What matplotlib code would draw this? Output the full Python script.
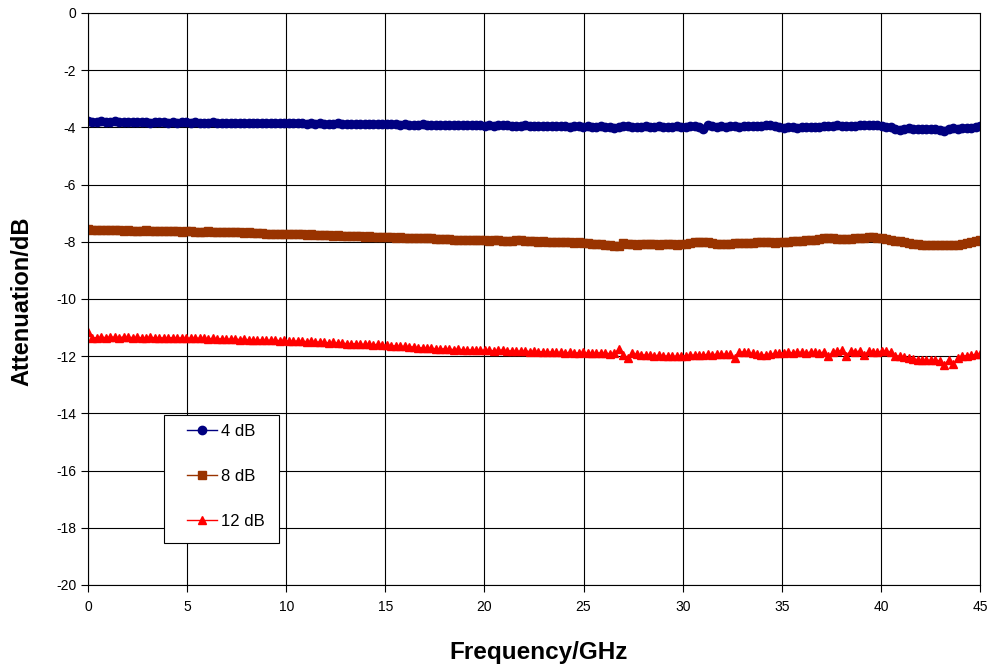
import numpy as np
import matplotlib
matplotlib.use('Agg')
import matplotlib.pyplot as plt
from matplotlib.patches import Rectangle

# frequency points, 0 to 45 GHz
freq = np.linspace(0, 45, 201)

att_4db = [
    -3.78, -3.80, -3.80, -3.79, -3.81, -3.80, -3.79, -3.80, -3.81, -3.82,
    -3.81, -3.82, -3.81, -3.82, -3.83, -3.82, -3.81, -3.82, -3.83, -3.82,
    -3.83, -3.82, -3.81, -3.83, -3.82, -3.83, -3.84, -3.83, -3.82, -3.83,
    -3.84, -3.83, -3.84, -3.85, -3.84, -3.83, -3.84, -3.85, -3.84, -3.85,
    -3.84, -3.85, -3.86, -3.85, -3.84, -3.85, -3.86, -3.85, -3.86, -3.87,
    -3.86, -3.87, -3.86, -3.87, -3.88, -3.87, -3.86, -3.87, -3.88, -3.87,
    -3.88, -3.87, -3.88, -3.89, -3.88, -3.87, -3.88, -3.89, -3.88, -3.89,
    -3.90, -3.89, -3.90, -3.91, -3.90, -3.89, -3.91, -3.90, -3.91, -3.92,
    -3.91, -3.92, -3.91, -3.93, -3.92, -3.91, -3.93, -3.92, -3.93, -3.94,
    -3.93, -3.94, -3.92, -3.90, -3.93, -3.94, -3.95, -3.94, -3.93, -3.95,
    -3.94, -3.95, -3.96, -3.95, -3.94, -3.96, -3.95, -3.96, -3.97, -3.96,
    -3.95, -3.97, -3.96, -3.98, -3.97, -3.96, -3.98, -3.99, -4.02, -3.99,
    -3.96, -3.94, -3.97, -3.98, -3.97, -3.96, -3.98, -3.97, -3.96, -3.97,
    -3.98, -3.97, -3.96, -3.98, -3.97, -3.96, -3.94, -3.97, -4.04, -3.93,
    -3.95, -3.97, -3.96, -3.97, -3.96, -3.95, -3.97, -3.96, -3.95, -3.96,
    -3.95, -3.94, -3.93, -3.91, -3.95, -4.00, -4.02, -4.00, -3.99, -4.01,
    -4.00, -3.99, -4.00, -3.98, -3.97, -3.96, -3.95, -3.94, -3.93, -3.95,
    -3.96, -3.95, -3.94, -3.93, -3.92, -3.93, -3.91, -3.92, -3.95, -3.97,
    -4.00, -4.04, -4.10, -4.05, -4.03, -4.04, -4.06, -4.05, -4.04, -4.06,
    -4.05, -4.08, -4.14, -4.06, -4.03, -4.04, -4.02, -4.03, -4.01, -3.98,
    -3.94,
]

att_8db = [
    -7.56, -7.58, -7.59, -7.58, -7.60, -7.59, -7.58, -7.60, -7.61, -7.60,
    -7.61, -7.62, -7.61, -7.60, -7.62, -7.63, -7.62, -7.61, -7.63, -7.62,
    -7.63, -7.64, -7.63, -7.62, -7.64, -7.65, -7.64, -7.63, -7.65, -7.66,
    -7.65, -7.66, -7.67, -7.66, -7.67, -7.68, -7.67, -7.68, -7.69, -7.70,
    -7.71, -7.72, -7.71, -7.73, -7.72, -7.73, -7.74, -7.73, -7.74, -7.75,
    -7.74, -7.75, -7.76, -7.75, -7.77, -7.78, -7.77, -7.78, -7.79, -7.80,
    -7.81, -7.80, -7.82, -7.81, -7.83, -7.82, -7.84, -7.83, -7.84, -7.85,
    -7.84, -7.86, -7.85, -7.87, -7.86, -7.88, -7.87, -7.88, -7.89, -7.90,
    -7.91, -7.90, -7.92, -7.93, -7.92, -7.94, -7.93, -7.95, -7.94, -7.95,
    -7.96, -7.95, -7.94, -7.96, -7.97, -7.96, -7.92, -7.95, -7.97, -7.98,
    -7.97, -7.99, -7.98, -8.00, -7.99, -8.01, -8.00, -8.02, -8.01, -8.03,
    -8.02, -8.04, -8.05, -8.06, -8.07, -8.08, -8.10, -8.12, -8.13, -8.14,
    -8.05, -8.06, -8.08, -8.10, -8.09, -8.07, -8.08, -8.09, -8.10, -8.08,
    -8.07, -8.09, -8.10, -8.08, -8.06, -8.04, -8.02, -8.01, -8.00, -8.02,
    -8.04, -8.06, -8.07, -8.08, -8.07, -8.05, -8.04, -8.03, -8.05, -8.04,
    -8.02, -8.01, -8.00, -8.02, -8.03, -8.01, -8.00, -7.99, -7.98, -7.97,
    -7.96, -7.95, -7.93, -7.92, -7.90, -7.88, -7.87, -7.88, -7.89, -7.90,
    -7.91, -7.90, -7.88, -7.86, -7.85, -7.84, -7.83, -7.85, -7.87, -7.90,
    -7.93, -7.96, -7.98, -8.00, -8.03, -8.06, -8.09, -8.11, -8.12, -8.10,
    -8.11, -8.12, -8.10, -8.11, -8.12, -8.10, -8.08, -8.05, -8.00, -7.97,
    -7.94,
]

att_12db = [
    -11.15, -11.36, -11.35, -11.34, -11.35, -11.33, -11.34, -11.35, -11.33, -11.34,
    -11.35, -11.34, -11.36, -11.35, -11.34, -11.36, -11.35, -11.37, -11.36, -11.35,
    -11.37, -11.36, -11.38, -11.37, -11.36, -11.38, -11.37, -11.39, -11.38, -11.40,
    -11.39, -11.40, -11.41, -11.40, -11.42, -11.41, -11.43, -11.42, -11.44, -11.43,
    -11.44, -11.45, -11.44, -11.46, -11.45, -11.47, -11.48, -11.47, -11.48, -11.49,
    -11.48, -11.50, -11.51, -11.52, -11.53, -11.52, -11.54, -11.55, -11.56, -11.57,
    -11.56, -11.58, -11.59, -11.58, -11.60, -11.59, -11.61, -11.62, -11.63, -11.64,
    -11.65, -11.66, -11.67, -11.68, -11.70, -11.71, -11.72, -11.73, -11.74, -11.75,
    -11.74, -11.76, -11.77, -11.76, -11.78, -11.77, -11.79, -11.78, -11.80, -11.79,
    -11.80, -11.81, -11.80, -11.78, -11.82, -11.81, -11.83, -11.82, -11.81, -11.84,
    -11.83, -11.85, -11.84, -11.86, -11.85, -11.87, -11.86, -11.88, -11.87, -11.89,
    -11.88, -11.87, -11.89, -11.90, -11.89, -11.88, -11.90, -11.91, -11.90, -11.76,
    -11.95, -12.06, -11.88, -11.94, -11.95, -11.96, -11.97, -11.98, -11.97, -11.99,
    -12.00, -12.01, -12.00, -11.99, -11.98, -11.97, -11.96, -11.95, -11.96, -11.94,
    -11.95, -11.93, -11.94, -11.92, -11.93, -12.07, -11.86, -11.85, -11.87, -11.90,
    -11.94, -11.96, -11.95, -11.94, -11.90, -11.88, -11.89, -11.87, -11.88, -11.86,
    -11.87, -11.88, -11.86, -11.87, -11.88, -11.86, -12.00, -11.85, -11.82, -11.80,
    -11.99, -11.81, -11.84, -11.83, -11.95, -11.83, -11.84, -11.85, -11.83, -11.82,
    -11.86, -11.98, -12.00, -12.02, -12.06, -12.09, -12.12, -12.14, -12.13, -12.15,
    -12.14, -12.16, -12.30, -12.12, -12.29, -12.06, -12.00, -11.98, -11.96, -11.94,
    -11.92,
]

labels = ['4 dB', '8 dB', '12 dB']
x_ticks = [0, 5, 10, 15, 20, 25, 30, 35, 40, 45]
y_ticks = [0, -2, -4, -6, -8, -10, -12, -14, -16, -18, -20]

plt.rcParams['font.family'] = ['Liberation Sans', 'DejaVu Sans']
plt.rcParams['axes.unicode_minus'] = False

fig = plt.figure(figsize=(9.9, 6.66), dpi=100)
ax = fig.add_axes([88 / 990, 1 - 585 / 666, 892 / 990, 572 / 666])

ax.plot(freq, att_4db, color='#000080', lw=1, marker='o', ms=6, label=labels[0])
ax.plot(freq, att_8db, color='#993300', lw=1, marker='s', ms=5.5, label=labels[1])
ax.plot(freq, att_12db, color='#FF0000', lw=1, marker='^', ms=6, label=labels[2])

ax.set_xlim(0, 45)
ax.set_ylim(-20, 0)
ax.set_xticks(x_ticks)
ax.set_yticks(y_ticks)
ax.tick_params(direction='out', length=5, width=0.8, labelsize=10, colors='black')
ax.tick_params(axis='x', pad=6)
ax.grid(True, color='black', lw=0.8)
ax.set_axisbelow(True)
for s in ax.spines.values():
    s.set_color('black')
    s.set_linewidth(0.8)

fig.text(22 / 990, 1 - 301 / 666, 'Attenuation/dB', rotation=90, fontsize=17,
         fontweight='bold', ha='center', va='center')
fig.text(539 / 990, 1 - 652 / 666, 'Frequency/GHz', fontsize=17.5,
         fontweight='bold', ha='center', va='center')

# legend box drawn separately so the padding can match
ax.add_patch(Rectangle((164 / 990, 1 - 543 / 666), 115 / 990, 128 / 666,
                       transform=fig.transFigure, facecolor='white',
                       edgecolor='black', lw=0.8, zorder=4, clip_on=False))
leg = ax.legend(loc='upper left', bbox_to_anchor=(187 / 990, 1 - 424 / 666),
                bbox_transform=fig.transFigure, borderaxespad=0, borderpad=0,
                fontsize=12, frameon=False, handlelength=1.8,
                handletextpad=0.25, labelspacing=1.8)
leg.set_zorder(5)

fig.savefig('out.png', dpi=100)
